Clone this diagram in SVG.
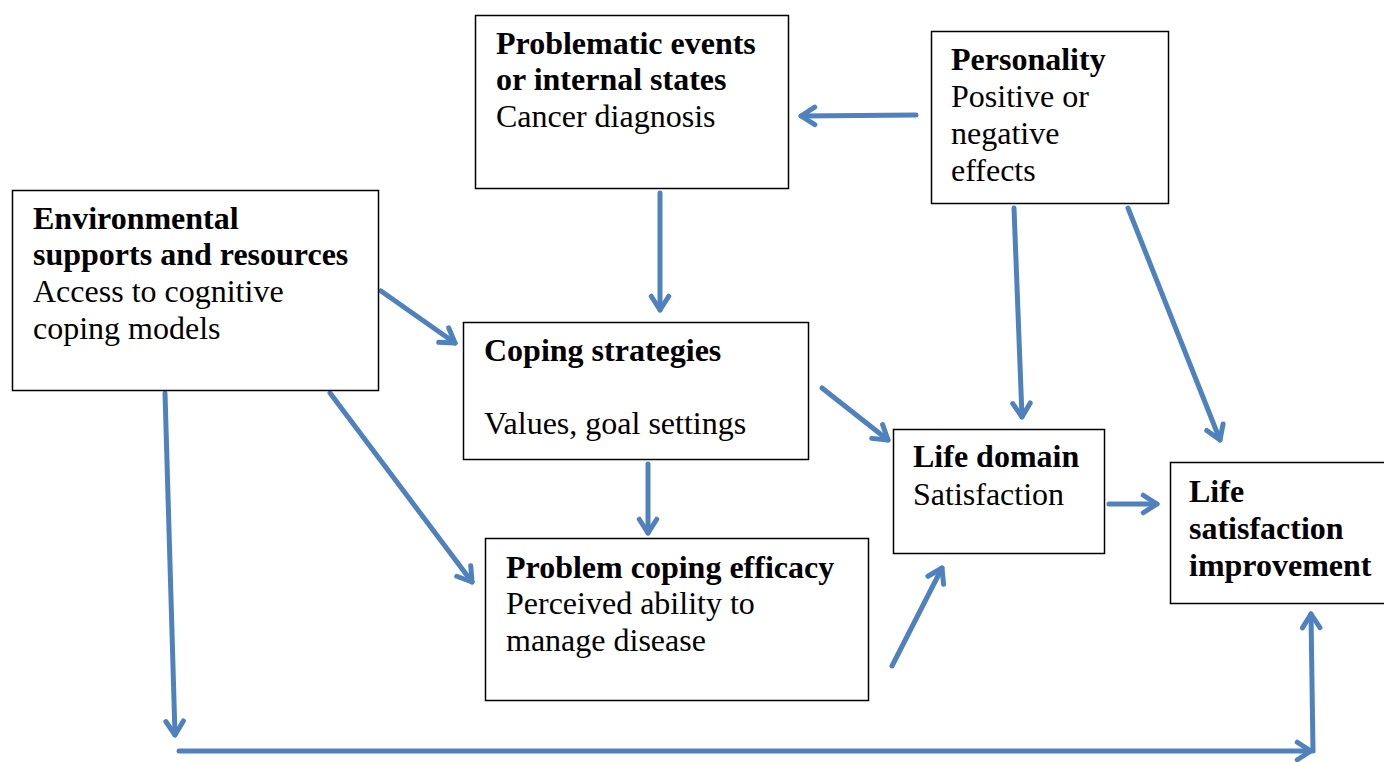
<svg xmlns="http://www.w3.org/2000/svg" width="1384" height="762" viewBox="0 0 1384 762">
<style>
.box{fill:#fff;stroke:#000;stroke-width:1.5}
text{font-size:32px;fill:#000}
.b{font-weight:bold}
.c{fill:none;stroke:#4F81BD;stroke-width:5;stroke-linecap:round;marker-end:url(#ah)}
</style>
<defs>
<marker id="ah" viewBox="0 0 10 10" refX="8.5" refY="5" markerWidth="5" markerHeight="5" orient="auto" markerUnits="strokeWidth">
<polyline points="3,1.5 8.5,5 3,8.5" fill="none" stroke="#4F81BD" stroke-width="2" stroke-linecap="round" stroke-linejoin="round"/>
</marker>
</defs>
<rect width="1384" height="762" fill="#fff"/>
<g id="connectors">
<line class="c" x1="916" y1="115" x2="801" y2="116"/>
<line class="c" x1="660" y1="193" x2="660" y2="310"/>
<line class="c" x1="381" y1="291" x2="455" y2="343"/>
<line class="c" x1="648" y1="464" x2="648" y2="533"/>
<line class="c" x1="330" y1="393" x2="472" y2="582"/>
<line class="c" x1="822" y1="388" x2="888" y2="440"/>
<line class="c" x1="1014" y1="208" x2="1022" y2="417"/>
<line class="c" x1="1128" y1="208" x2="1220" y2="440"/>
<line class="c" x1="892" y1="666" x2="942" y2="568"/>
<line class="c" x1="1109" y1="504" x2="1157" y2="504"/>
<line class="c" x1="165" y1="393" x2="175" y2="735"/>
<line class="c" x1="179" y1="751" x2="1311" y2="751"/>
<line class="c" x1="1313" y1="751" x2="1311" y2="614"/>
</g>
<g font-family="'Liberation Serif', 'Times New Roman', Times, serif">
<g id="problematic">
<rect class="box" x="475.5" y="15.5" width="313" height="173"/>
<text class="b" x="496" y="54">Problematic events</text>
<text class="b" x="496" y="90">or internal states</text>
<text x="496" y="127">Cancer diagnosis</text>
</g>
<g id="personality">
<rect class="box" x="931.5" y="31.5" width="237" height="172"/>
<text class="b" x="951" y="70">Personality</text>
<text x="951" y="107">Positive or</text>
<text x="951" y="144">negative</text>
<text x="951" y="181">effects</text>
</g>
<g id="environmental">
<rect class="box" x="12.5" y="190.5" width="366" height="200"/>
<text class="b" x="33" y="229">Environmental</text>
<text class="b" x="33" y="265">supports and resources</text>
<text x="33" y="302">Access to cognitive</text>
<text x="33" y="339">coping models</text>
</g>
<g id="coping">
<rect class="box" x="463.5" y="322.5" width="345" height="137"/>
<text class="b" x="484" y="361">Coping strategies</text>
<text x="484" y="434">Values, goal settings</text>
</g>
<g id="efficacy">
<rect class="box" x="485.5" y="538.5" width="383" height="162"/>
<text class="b" x="506" y="578">Problem coping efficacy</text>
<text x="506" y="614">Perceived ability to</text>
<text x="506" y="651">manage disease</text>
</g>
<g id="lifedomain">
<rect class="box" x="893.5" y="429.5" width="211" height="124"/>
<text class="b" x="913" y="467">Life domain</text>
<text x="913" y="505">Satisfaction</text>
</g>
<g id="lifesat">
<rect class="box" x="1170.5" y="462.5" width="216" height="141"/>
<text class="b" x="1189" y="502">Life</text>
<text class="b" x="1189" y="539">satisfaction</text>
<text class="b" x="1189" y="576">improvement</text>
</g>
</g>
</svg>
